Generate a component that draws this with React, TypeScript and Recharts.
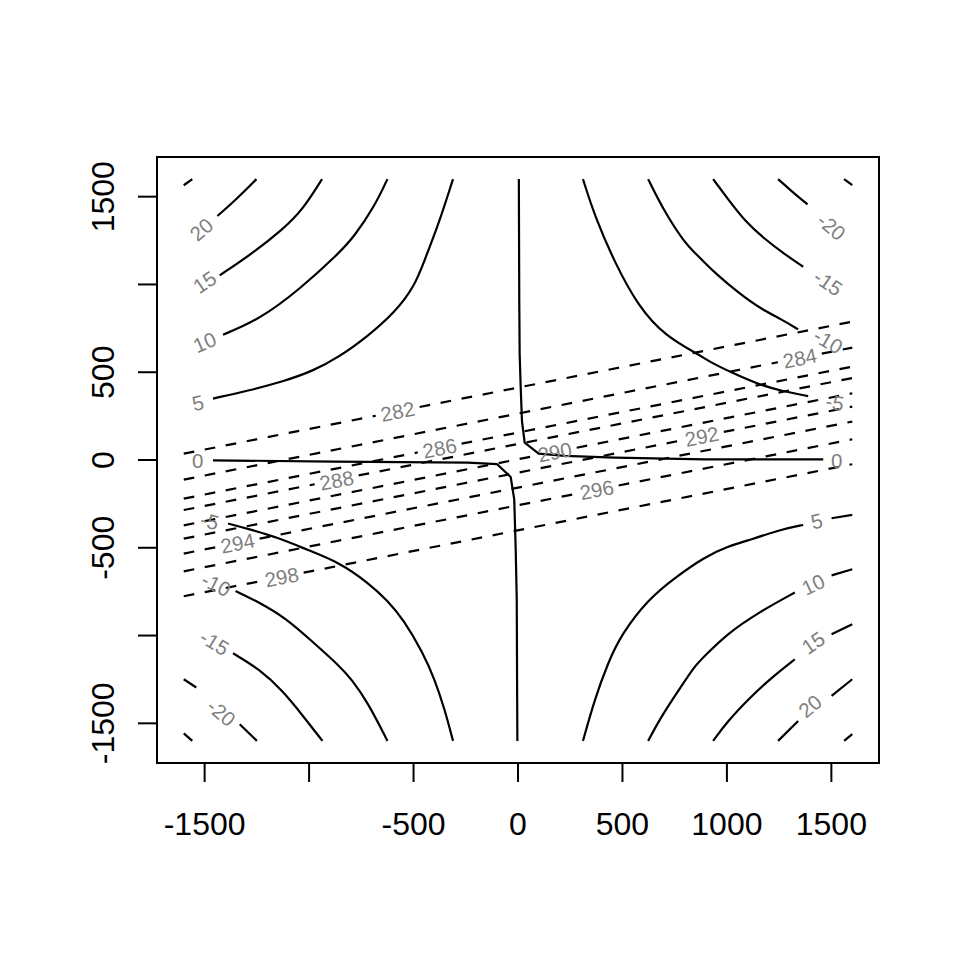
import React from "react";
import { ComposedChart, XAxis, YAxis, Line, Scatter, ReferenceArea } from "recharts";

// axis setup
const X_DOMAIN: [number, number] = [-1728, 1728];
const Y_DOMAIN: [number, number] = [-1726, 1726];
const xTicks = [-1500, -1000, -500, 0, 500, 1000, 1500];
const xTickLabels = ["-1500", "", "-500", "0", "500", "1000", "1500"];
const yTicks = [-1500, -1000, -500, 0, 500, 1000, 1500];
const yTickLabels = ["-1500", "", "-500", "0", "500", "", "1500"];

type P = { x: number; y: number };
const pts = (a: number[][]): P[] => a.map(([x, y]) => ({ x, y }));

// solid contours
const z25TL = pts([[-1600, 1565], [-1559, 1600]]);
const z20TL = pts([[-1439, 1390], [-1348, 1485], [-1252, 1600]]);
const z15TL = pts([[-1428, 1052], [-1284, 1166], [-1125, 1314], [-1029, 1428], [-938, 1600]]);
const z10TL = pts([[-1412, 714], [-1237, 801], [-1045, 972], [-854, 1181], [-782, 1276], [-686, 1447], [-625, 1600]]);
const z5TL = pts([[-1460, 350], [-1284, 397], [-1125, 447], [-981, 507], [-854, 588], [-718, 706], [-590, 840], [-494, 991], [-446, 1143], [-383, 1333], [-311, 1600]]);
const z0Left = pts([[-1460, -2], [-878, -9], [-241, -15], [-100, -24], [-35, -97], [-18, -224], [-11, -509], [-6, -793], [-4, -1363], [-3, -1600]]);
const z0Right = pts([[4, 1600], [6, 919], [8, 602], [13, 412], [19, 222], [32, 99], [99, 36], [224, 23], [463, 14], [894, 4], [1461, 4]]);
const zm5TR = pts([[311, 1600], [367, 1390], [463, 1124], [575, 877], [703, 706], [878, 592], [910, 564], [1022, 498], [1150, 431], [1262, 393], [1389, 364]]);
const zm10TR = pts([[623, 1600], [703, 1409], [798, 1238], [846, 1181], [894, 1124], [942, 1067], [1054, 953], [1166, 858], [1262, 801], [1341, 744]]);
const zm15TR = pts([[934, 1600], [1006, 1485], [1086, 1361], [1182, 1257], [1277, 1172], [1365, 1101]]);
const zm20TR = pts([[1245, 1600], [1309, 1532], [1386, 1456]]);
const zm25TR = pts([[1561, 1600], [1600, 1566]]);
const zm5BL = pts([[-1388, -362], [-1284, -395], [-1157, -439], [-1013, -509], [-854, -584], [-718, -698], [-622, -803], [-550, -907], [-455, -1097], [-399, -1249], [-351, -1420], [-311, -1600]]);
const zm10BL = pts([[-1352, -746], [-1237, -812], [-1109, -903], [-997, -1021], [-854, -1173], [-797, -1249], [-718, -1382], [-625, -1600]]);
const zm15BL = pts([[-1364, -1101], [-1237, -1192], [-1125, -1316], [-1029, -1458], [-936, -1600]]);
const zm20BLa = pts([[-1600, -1249], [-1540, -1296]]);
const zm20BLb = pts([[-1332, -1505], [-1250, -1600]]);
const zm25BL = pts([[-1600, -1557], [-1559, -1600]]);
const z5BRa = pts([[311, -1600], [367, -1363], [431, -1154], [495, -993], [623, -793], [751, -670], [894, -552], [998, -495], [1118, -452], [1262, -395], [1365, -370]]);
const z5BRb = pts([[1501, -332], [1600, -313]]);
const z10BRa = pts([[623, -1600], [687, -1458], [783, -1287], [846, -1173], [894, -1116], [998, -993], [1150, -869], [1325, -755]]);
const z10BRb = pts([[1501, -657], [1600, -622]]);
const z15BRa = pts([[934, -1600], [998, -1496], [1102, -1363], [1214, -1239], [1325, -1135]]);
const z15BRb = pts([[1501, -993], [1600, -936]]);
const z20BRa = pts([[1245, -1600], [1341, -1487]]);
const z20BRb = pts([[1501, -1344], [1600, -1249]]);
const z25BR = pts([[1561, -1600], [1600, -1562]]);

const curvedSegments = [
  z25TL, z20TL, z15TL, z10TL, z5TL, zm5TR, zm10TR, zm15TR, zm20TR, zm25TR,
  zm5BL, zm10BL, zm15BL, zm20BLa, zm20BLb, zm25BL, z5BRa, z5BRb, z10BRa, z10BRb, z15BRa, z15BRb,
  z20BRa, z20BRb, z25BR,
];
const zeroSegments = [z0Left, z0Right];

// dashed contours
const d282a = pts([[-1600, 36], [-681, 252]]);
const d282b = pts([[-471, 302], [1600, 788]]);
const d284a = pts([[-1600, -112], [1244, 557]]);
const d284b = pts([[1454, 606], [1600, 640]]);
const d286a = pts([[-1600, -220], [-480, 43]]);
const d286b = pts([[-270, 93], [1600, 532]]);
const d288a = pts([[-1600, -285], [-973, -138]]);
const d288b = pts([[-763, -88], [1600, 467]]);
const d290a = pts([[-1600, -372], [71, 21]]);
const d290b = pts([[281, 70], [1600, 380]]);
const d292a = pts([[-1600, -448], [775, 110]]);
const d292b = pts([[985, 160], [1600, 304]]);
const d294a = pts([[-1600, -533], [-1447, -497]]);
const d294b = pts([[-1237, -448], [1600, 219]]);
const d296a = pts([[-1600, -634], [272, -194]]);
const d296b = pts([[482, -145], [1600, 118]]);
const d298a = pts([[-1600, -776], [-1236, -691]]);
const d298b = pts([[-1026, -642], [1600, -24]]);

const dashedSegments = [
  d282a, d282b, d284a, d284b, d286a, d286b, d288a, d288b, d290a, d290b,
  d292a, d292b, d294a, d294b, d296a, d296b, d298a, d298b,
];

// contour labels
const solidLabels = [
  { x: -1516, y: 1314, t: "20" }, { x: -1500, y: 1014, t: "15" }, { x: -1500, y: 672, t: "10" },
  { x: -1532, y: 327, t: "5" }, { x: -1533, y: -2, t: "0" }, { x: -1476, y: -347, t: "-5" },
  { x: -1444, y: -708, t: "-10" }, { x: -1452, y: -1040, t: "-15" }, { x: -1420, y: -1439, t: "-20" },
  { x: 1501, y: 1329, t: "-20" }, { x: 1485, y: 1010, t: "-15" }, { x: 1485, y: 678, t: "-10" },
  { x: 1517, y: 329, t: "-5" }, { x: 1525, y: -2, t: "0" }, { x: 1429, y: -347, t: "5" },
  { x: 1413, y: -708, t: "10" }, { x: 1413, y: -1040, t: "15" }, { x: 1397, y: -1401, t: "20" },
];
const solidLabelAngles = [-41, -34, -23, -13, 0, 15, 26, 31, 40, 40, 34, 30, 11, 0, -13, -25, -34, -40];

const dashedLabels = [
  { x: -576, y: 277, t: "282" }, { x: 1349, y: 581, t: "284" }, { x: -375, y: 68, t: "286" },
  { x: -868, y: -115, t: "288" }, { x: 176, y: 46, t: "290" }, { x: 880, y: 135, t: "292" },
  { x: -1342, y: -473, t: "294" }, { x: 377, y: -169, t: "296" }, { x: -1131, y: -666, t: "298" },
];
const dashedLabelAngle = -11.2;

const labelData = [
  ...solidLabels.map((d, i) => ({ ...d, a: solidLabelAngles[i] })),
  ...dashedLabels.map((d) => ({ ...d, a: dashedLabelAngle })),
];

const AXIS_FONT = "'Liberation Sans', Arial, Helvetica, sans-serif";

const XTick = (props: any) => {
  const { x, y, payload } = props;
  const i = xTicks.indexOf(payload.value);
  const label = i >= 0 ? xTickLabels[i] : "";
  if (!label) return <g />;
  return (
    <text x={x} y={y} dy={51} textAnchor="middle" fontSize={32} fontFamily={AXIS_FONT} fill="#000">
      {label}
    </text>
  );
};

const YTick = (props: any) => {
  const { x, y, payload } = props;
  const i = yTicks.indexOf(payload.value);
  const label = i >= 0 ? yTickLabels[i] : "";
  if (!label) return <g />;
  const bx = x - 22;
  return (
    <text x={bx} y={y} transform={`rotate(-90 ${bx} ${y})`} textAnchor="middle" fontSize={32} fontFamily={AXIS_FONT} fill="#000">
      {label}
    </text>
  );
};

const LabelShape = (props: any) => {
  const { cx, cy, payload } = props;
  if (cx == null || cy == null) return <g />;
  return (
    <text
      x={cx}
      y={cy}
      transform={`rotate(${payload.a} ${cx} ${cy})`}
      textAnchor="middle"
      dominantBaseline="central"
      fontFamily={AXIS_FONT}
      fontSize={20.5}
      fill="#7f7f7f"
    >
      {payload.t}
    </text>
  );
};

export default function App() {
  return (
    <ComposedChart width={944} height={944} margin={{ top: 149, right: 73, bottom: 89, left: 49 }}>
      <XAxis
        type="number"
        dataKey="x"
        domain={X_DOMAIN}
        ticks={xTicks}
        interval={0}
        allowDataOverflow
        axisLine={false}
        tickLine={{ stroke: "#000", strokeWidth: 2 }}
        tickSize={19}
        height={100}
        tick={(p: any) => <XTick {...p} />}
      />
      <YAxis
        type="number"
        dataKey="y"
        domain={Y_DOMAIN}
        ticks={yTicks}
        interval={0}
        allowDataOverflow
        axisLine={false}
        tickLine={{ stroke: "#000", strokeWidth: 2 }}
        tickSize={19}
        width={100}
        tick={(p: any) => <YTick {...p} />}
      />
      <ReferenceArea
        x1={X_DOMAIN[0]}
        x2={X_DOMAIN[1]}
        y1={Y_DOMAIN[0]}
        y2={Y_DOMAIN[1]}
        fill="none"
        fillOpacity={0}
        stroke="#000"
        strokeWidth={2}
        ifOverflow="visible"
      />
      {curvedSegments.map((seg, i) => (
        <Line
          key={`s${i}`}
          data={seg}
          dataKey="y"
          type="basis"
          stroke="#000"
          strokeWidth={2.2}
          strokeLinejoin="round"
          dot={false}
          activeDot={false}
          isAnimationActive={false}
        />
      ))}
      {zeroSegments.map((seg, i) => (
        <Line
          key={`z${i}`}
          data={seg}
          dataKey="y"
          type="linear"
          stroke="#000"
          strokeWidth={2.2}
          strokeLinejoin="round"
          dot={false}
          activeDot={false}
          isAnimationActive={false}
        />
      ))}
      <Scatter data={labelData} dataKey="y" shape={(p: any) => <LabelShape {...p} />} isAnimationActive={false} />
      {dashedSegments.map((seg, i) => (
        <Line
          key={`d${i}`}
          data={seg}
          dataKey="y"
          type="linear"
          stroke="#000"
          strokeWidth={2.2}
          strokeDasharray="10.7 10.7"
          dot={false}
          activeDot={false}
          isAnimationActive={false}
        />
      ))}
    </ComposedChart>
  );
}
